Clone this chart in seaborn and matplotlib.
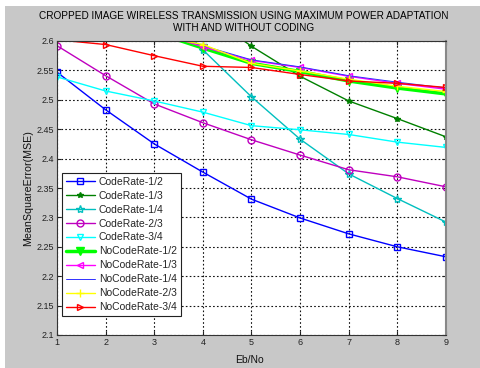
import matplotlib
matplotlib.use("Agg")
import matplotlib.pyplot as plt
import seaborn as sns
import pandas as pd
from matplotlib.patches import Rectangle

sns.set_style("white")
plt.rcParams['font.family'] = ['Liberation Sans', 'DejaVu Sans']

eb_no = [1, 2, 3, 4, 5, 6, 7, 8, 9]

code_r12 = [2.547, 2.483, 2.425, 2.377, 2.331, 2.299, 2.272, 2.250, 2.233]
code_r13 = [2.80, 2.75, 2.70, 2.650, 2.591, 2.540, 2.498, 2.468, 2.437]
code_r14 = [2.85, 2.76, 2.675, 2.585, 2.505, 2.433, 2.374, 2.332, 2.292]
code_r23 = [2.592, 2.541, 2.493, 2.461, 2.432, 2.406, 2.381, 2.369, 2.352]
code_r34 = [2.539, 2.515, 2.498, 2.479, 2.456, 2.449, 2.441, 2.428, 2.419]
nocode_r12 = [2.68, 2.65, 2.615, 2.588, 2.562, 2.548, 2.532, 2.520, 2.510]
nocode_r13 = [2.68, 2.65, 2.617, 2.590, 2.567, 2.555, 2.540, 2.528, 2.518]
nocode_r14 = [2.68, 2.65, 2.618, 2.592, 2.568, 2.556, 2.541, 2.530, 2.520]
nocode_r23 = [2.67, 2.64, 2.610, 2.594, 2.562, 2.549, 2.535, 2.523, 2.514]
nocode_r34 = [2.602, 2.594, 2.575, 2.557, 2.555, 2.543, 2.532, 2.528, 2.521]

labels = ["CodeRate-1/2", "CodeRate-1/3", "CodeRate-1/4", "CodeRate-2/3", "CodeRate-3/4",
          "NoCodeRate-1/2", "NoCodeRate-1/3", "NoCodeRate-1/4", "NoCodeRate-2/3", "NoCodeRate-3/4"]
series = [code_r12, code_r13, code_r14, code_r23, code_r34,
          nocode_r12, nocode_r13, nocode_r14, nocode_r23, nocode_r34]

styles = [
    dict(color="#0000FF", marker="s", ms=5, lw=1.0, mfc="none"),
    dict(color="#008000", marker="*", ms=4, lw=1.0, mfc="#008000"),
    dict(color="#00BFBF", marker="*", ms=6, lw=1.0, mfc="none"),
    dict(color="#BF00BF", marker="o", ms=5, lw=1.0, mfc="none"),
    dict(color="#00FFFF", marker="v", ms=5, lw=1.0, mfc="none"),
    dict(color="#00FF00", marker="v", ms=6, lw=2.5, mfc="#00FF00"),
    dict(color="#FF00FF", marker="<", ms=5, lw=1.0, mfc="none"),
    dict(color="#3030FF", marker=None, ms=0, lw=0.7, mfc="none"),
    dict(color="#FFFF00", marker="+", ms=6, lw=1.0, mfc="none"),
    dict(color="#FF0000", marker=">", ms=5, lw=1.0, mfc="none"),
]

W, H = 481, 368
fig = plt.figure(figsize=(W / 100, H / 100), dpi=100)
fig.patch.set_facecolor("white")
bg = Rectangle((5 / W, 0), 1, 1 - 6 / H, transform=fig.transFigure,
               facecolor="#c8c8c8", edgecolor="none", zorder=-10)
fig.add_artist(bg)

ax = fig.add_axes([57 / W, 1 - 335 / H, (446 - 57) / W, (335 - 41) / H])
ax.set_zorder(1)
ax.set_facecolor("white")

for lab, vals, st in zip(labels, series, styles):
    df = pd.DataFrame({"x": eb_no, "y": vals})
    sns.lineplot(data=df, x="x", y="y", ax=ax, label=lab, color=st["color"],
                 marker=st["marker"], markersize=st["ms"], linewidth=st["lw"],
                 markerfacecolor=st["mfc"], markeredgecolor=st["color"],
                 markeredgewidth=1.0)

ax.set_xlim(1, 9)
ax.set_ylim(2.1, 2.6)
ax.set_xticks(eb_no)
yt = [2.1, 2.15, 2.2, 2.25, 2.3, 2.35, 2.4, 2.45, 2.5, 2.55, 2.6]
ax.set_yticks(yt)
ax.set_yticklabels([f"{v:g}" for v in yt])
ax.tick_params(direction="in", length=3, labelsize=6.5, colors="#222222",
               top=True, right=True, left=True, bottom=True, pad=2)
ax.grid(True, linestyle=(0, (1.5, 2.0)), color="#111111", linewidth=0.8)
for s in ax.spines.values():
    s.set_color("#333333")
    s.set_linewidth(0.8)
ax.spines["right"].set_color("#888888")
ax.spines["right"].set_linewidth(1.5)

ax.set_xlabel("Eb/No", fontsize=7.5, color="#111111")
ax.set_ylabel("MeanSquareError(MSE)", fontsize=7.7, color="#111111")
ax.xaxis.set_label_coords(0.495, -0.068)
ax.yaxis.set_label_coords(-0.062, 0.5)

fig.text(244 / W, 1 - 22 / H,
         "CROPPED IMAGE WIRELESS TRANSMISSION USING MAXIMUM POWER ADAPTATION\nWITH AND WITHOUT CODING",
         ha="center", va="center", fontsize=7.2, color="#000000", linespacing=1.25)

leg = ax.legend(loc="upper left", bbox_to_anchor=(5 / 389, (335 - 173) / 294),
                fontsize=7.5, frameon=True, fancybox=False, framealpha=1,
                edgecolor="#222222", handlelength=2.8, labelspacing=0.38,
                borderpad=0.35, handletextpad=0.4, borderaxespad=0)
leg.get_frame().set_linewidth(0.8)

fig.savefig("out.png", dpi=100)
